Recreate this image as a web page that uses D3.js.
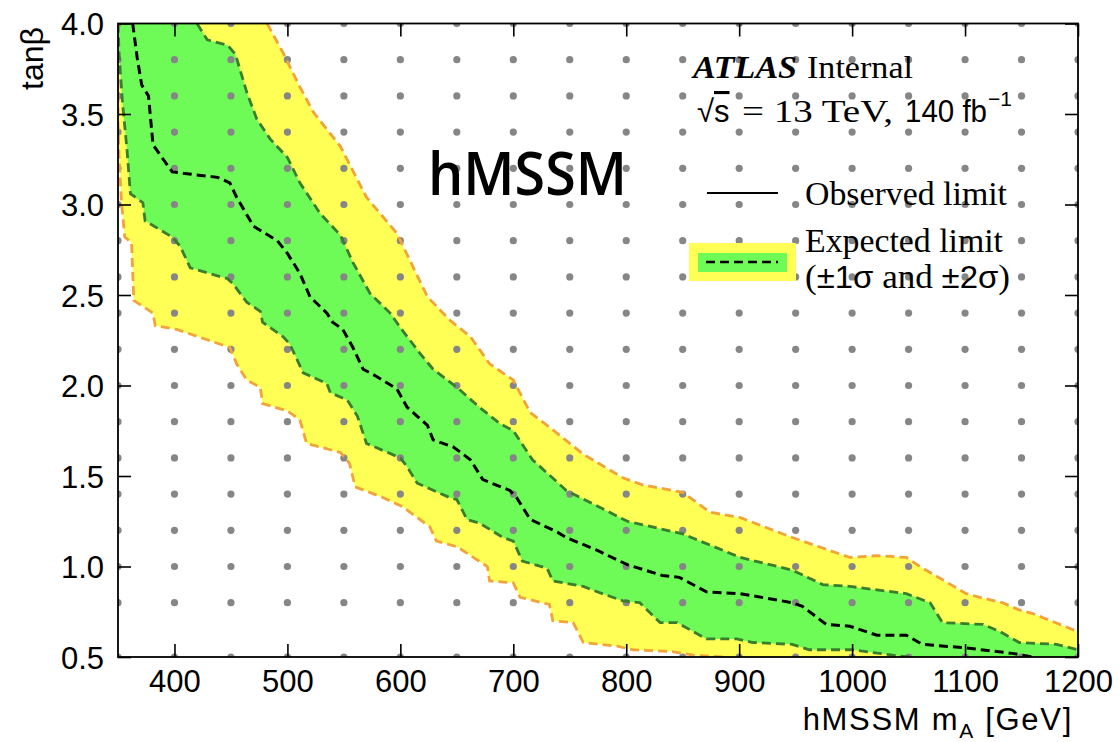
<!DOCTYPE html>
<html>
<head>
<meta charset="utf-8">
<script src="https://cdn.jsdelivr.net/npm/d3@7"></script>
<style>
  html, body { margin: 0; padding: 0; background: #fff; }
  svg { display: block; }
</style>
</head>
<body>
<div id="chart"></div>
<script>
// ---------------- data ----------------
const xTicks = [400, 500, 600, 700, 800, 900, 1000, 1100, 1200];
const yTicks = [0.5, 1.0, 1.5, 2.0, 2.5, 3.0, 3.5, 4.0];

// scan grid points (grey dots)
const gridMass = [350, 400, 450, 500, 550, 600, 650, 700, 750, 800, 850, 900, 950, 1000, 1050, 1100, 1150, 1200];
const gridTanb = [0.5, 0.8, 1.0, 1.2, 1.4, 1.6, 1.8, 2.0, 2.2, 2.4, 2.6, 2.8, 3.0, 3.2, 3.4, 3.6, 3.8, 4.0];

// contours [mA, tanβ]
const sigma2High = [[482,4.0],[496,3.84],[511,3.65],[523,3.51],[547,3.32],[570,3.04],[597,2.84],[624,2.49],[644,2.36],[662,2.27],[679,2.12],[700,2.03],[715,1.85],[732,1.77],[762,1.62],[797,1.49],[815,1.45],[850,1.41],[874,1.30],[901,1.27],[947,1.16],[998,1.05],[1022,1.06],[1048,1.05],[1060,1.00],[1101,0.85],[1113,0.83],[1133,0.80],[1148,0.76],[1160,0.74],[1200,0.64]];
const sigma1High = [[420,4.0],[429,3.91],[447,3.88],[454,3.83],[464,3.62],[473,3.47],[485,3.36],[500,3.26],[511,3.12],[529,2.95],[547,2.83],[558,2.68],[573,2.51],[591,2.40],[600,2.32],[617,2.18],[629,2.09],[650,1.99],[670,1.88],[688,1.79],[700,1.75],[717,1.59],[747,1.42],[801,1.25],[850,1.18],[901,1.05],[947,0.98],[974,0.90],[998,0.89],[1048,0.85],[1069,0.80],[1080,0.69],[1116,0.68],[1131,0.64],[1148,0.58],[1181,0.57],[1200,0.54]];
const expected = [[363,4.0],[367,3.81],[371,3.66],[377,3.60],[381,3.33],[390,3.25],[398,3.18],[411,3.17],[438,3.15],[449,3.12],[455,3.04],[470,2.88],[491,2.80],[500,2.73],[511,2.62],[520,2.49],[535,2.40],[540,2.35],[549,2.31],[558,2.21],[567,2.09],[579,2.05],[597,1.98],[606,1.88],[615,1.83],[624,1.78],[629,1.70],[647,1.66],[662,1.59],[673,1.48],[697,1.42],[703,1.38],[715,1.26],[739,1.19],[747,1.16],[774,1.09],[801,1.01],[832,0.95],[847,0.94],[871,0.86],[901,0.85],[947,0.80],[956,0.78],[977,0.68],[998,0.67],[1022,0.62],[1048,0.62],[1062,0.57],[1101,0.55],[1142,0.52],[1160,0.50]];
const sigma1Low = [[350,4.0],[351,3.83],[354,3.56],[358,3.30],[361,3.06],[372,3.01],[374,2.91],[398,2.82],[405,2.77],[414,2.65],[447,2.59],[452,2.56],[464,2.46],[476,2.41],[478,2.35],[496,2.27],[502,2.23],[514,2.07],[535,2.01],[538,1.96],[553,1.92],[562,1.83],[570,1.68],[600,1.60],[606,1.55],[615,1.46],[644,1.38],[650,1.37],[659,1.26],[670,1.24],[691,1.16],[700,1.14],[708,1.03],[730,0.99],[735,0.92],[762,0.89],[770,0.87],[797,0.81],[812,0.80],[830,0.69],[845,0.69],[871,0.60],[898,0.60],[912,0.58],[947,0.57],[962,0.54],[1000,0.54],[1036,0.51],[1051,0.50]];
const sigma2Low = [[350,4.0],[350,3.45],[351,3.25],[353,3.02],[356,2.82],[362,2.79],[364,2.47],[381,2.40],[383,2.33],[402,2.31],[449,2.21],[455,2.12],[464,2.03],[476,1.99],[478,1.90],[500,1.86],[511,1.81],[517,1.68],[547,1.63],[555,1.57],[560,1.44],[585,1.38],[602,1.33],[626,1.22],[632,1.14],[650,1.11],[677,1.00],[679,0.92],[700,0.91],[706,0.83],[732,0.79],[735,0.70],[753,0.69],[762,0.58],[792,0.56],[806,0.54],[841,0.53],[859,0.51],[889,0.50]];

// ---------------- layout ----------------
const W = 1120, H = 742;
const L = 118, R = 1078, T = 23.5, B = 657;
const sans = "'Liberation Sans', Arimo, Helvetica, Arial, sans-serif";
const serif = "'Liberation Serif', 'Times New Roman', Times, serif";

const svg = d3.select("#chart").append("svg").attr("width", W).attr("height", H);
svg.append("rect").attr("width", W).attr("height", H).attr("fill", "#fff");

const x = d3.scaleLinear().domain([350, 1200]).range([L, R]);
const y = d3.scaleLinear().domain([0.5, 4.0]).range([B, T]);

svg.append("defs").append("clipPath").attr("id", "plotclip")
  .append("rect").attr("x", L).attr("y", T).attr("width", R - L).attr("height", B - T);

const plot = svg.append("g").attr("clip-path", "url(#plotclip)");
const line = d3.line().x(d => x(d[0])).y(d => y(d[1]));

const xMax = x.domain()[1], yMin = y.domain()[0];
const bandPoly = (hi, lo) => hi.concat([[xMax, yMin]], lo.slice().reverse());

plot.append("path").attr("d", line(bandPoly(sigma2High, sigma2Low)) + "Z").attr("fill", "#ffff55");
plot.append("path").attr("d", line(bandPoly(sigma1High, sigma1Low)) + "Z").attr("fill", "#6efb58");

// grid dots
const dots = [];
gridMass.forEach(m => gridTanb.forEach(t => dots.push([m, t])));
plot.selectAll("circle.dot").data(dots).enter().append("circle")
  .attr("class", "dot").attr("cx", d => x(d[0])).attr("cy", d => y(d[1]))
  .attr("r", 3.6).attr("fill", "#868686");

// contour lines
const dashedLine = (data, color, w, dash) => plot.append("path").attr("d", line(data))
  .attr("fill", "none").attr("stroke", color).attr("stroke-width", w).attr("stroke-dasharray", dash);
dashedLine(sigma2High, "#f2a33a", 2.8, "9,5");
dashedLine(sigma2Low, "#f2a33a", 2.8, "9,5");
dashedLine(sigma1High, "#3a7d2c", 2.8, "9,5");
dashedLine(sigma1Low, "#3a7d2c", 2.8, "9,5");
dashedLine(expected, "#000", 3, "9,5");

// axes
const tickFont = 31;
const gx = svg.append("g").attr("transform", `translate(0,${B})`)
  .call(d3.axisBottom(x).tickValues(xTicks).tickSize(-13).tickSizeOuter(0).tickPadding(13).tickFormat(d3.format("d")));
const gxt = svg.append("g").attr("transform", `translate(0,${T})`)
  .call(d3.axisTop(x).tickValues(xTicks).tickSize(-13).tickSizeOuter(0).tickFormat(""));
const gy = svg.append("g").attr("transform", `translate(${L},0)`)
  .call(d3.axisLeft(y).tickValues(yTicks).tickSize(-13).tickSizeOuter(0).tickPadding(14).tickFormat(d3.format(".1f")));
const gyr = svg.append("g").attr("transform", `translate(${R},0)`)
  .call(d3.axisRight(y).tickValues(yTicks).tickSize(-13).tickSizeOuter(0).tickFormat(""));
[gx, gxt, gy, gyr].forEach(g => {
  g.select(".domain").remove();
  g.selectAll(".tick line").attr("stroke", "#000").attr("stroke-width", 1.6);
  g.selectAll("text").attr("font-family", sans).attr("font-size", tickFont).attr("fill", "#000");
});
gy.selectAll("text").attr("dy", "0.36em");

// frame
svg.append("rect").attr("x", L).attr("y", T).attr("width", R - L).attr("height", B - T)
  .attr("fill", "none").attr("stroke", "#000").attr("stroke-width", 1.8);

// axis titles
const xl = svg.append("text").attr("x", 1073).attr("y", 730).attr("text-anchor", "end")
  .attr("font-family", sans).attr("font-size", 31).attr("letter-spacing", 1.7).attr("fill", "#000");
xl.append("tspan").text("hMSSM m");
xl.append("tspan").attr("font-size", 21).attr("dy", 8).text("A");
xl.append("tspan").attr("dy", -8).text(" [GeV]");

svg.append("text").attr("transform", "translate(43,27) rotate(-90)").attr("text-anchor", "end")
  .attr("font-family", sans).attr("font-size", 32).attr("fill", "#000").text("tanβ");

// big label
svg.append("text").attr("x", 428).attr("y", 195)
  .attr("font-family", "'Open Sans', 'Noto Sans', sans-serif").attr("font-weight", 600)
  .attr("font-size", 59).attr("textLength", 199).attr("lengthAdjust", "spacingAndGlyphs")
  .attr("fill", "#000").text("hMSSM");

// ATLAS label
svg.append("text").attr("x", 693).attr("y", 78).attr("font-family", serif).attr("font-weight", "bold")
  .attr("font-style", "italic").attr("font-size", 32).attr("textLength", 104).attr("lengthAdjust", "spacingAndGlyphs")
  .text("ATLAS");
svg.append("text").attr("x", 807).attr("y", 78).attr("font-family", serif)
  .attr("font-size", 32).attr("textLength", 106).attr("lengthAdjust", "spacingAndGlyphs").text("Internal");

const rs = svg.append("text").attr("x", 697).attr("y", 122).attr("font-family", sans).attr("font-size", 31);
rs.append("tspan").text("√");
rs.append("tspan").attr("style", "text-decoration: overline").text("s");
svg.append("text").attr("x", 742).attr("y", 122).attr("font-family", serif).attr("font-size", 32)
  .attr("textLength", 151).attr("lengthAdjust", "spacingAndGlyphs").text("= 13 TeV,");
svg.append("text").attr("x", 905).attr("y", 122).attr("font-family", sans).attr("font-size", 31)
  .attr("textLength", 82).attr("lengthAdjust", "spacingAndGlyphs").text("140 fb");
svg.append("text").attr("x", 988).attr("y", 106).attr("font-family", sans).attr("font-size", 21).text("−1");

// legend
svg.append("line").attr("x1", 707).attr("x2", 778).attr("y1", 193).attr("y2", 193)
  .attr("stroke", "#000").attr("stroke-width", 2.2);
svg.append("text").attr("x", 805).attr("y", 205).attr("font-family", serif).attr("font-size", 33)
  .attr("textLength", 202).attr("lengthAdjust", "spacingAndGlyphs").text("Observed limit");

svg.append("rect").attr("x", 689).attr("y", 243).attr("width", 107).attr("height", 38).attr("fill", "#ffff55");
svg.append("rect").attr("x", 698).attr("y", 253).attr("width", 89).attr("height", 19).attr("fill", "#6efb58");
svg.append("line").attr("x1", 706).attr("x2", 778).attr("y1", 262).attr("y2", 262)
  .attr("stroke", "#000").attr("stroke-width", 2.6).attr("stroke-dasharray", "9,5");
svg.append("text").attr("x", 805).attr("y", 252).attr("font-family", serif).attr("font-size", 33)
  .attr("textLength", 198).attr("lengthAdjust", "spacingAndGlyphs").text("Expected limit");
const el = svg.append("text").attr("x", 805).attr("y", 288).attr("font-family", serif).attr("font-size", 33)
  .attr("textLength", 205).attr("lengthAdjust", "spacingAndGlyphs");
el.append("tspan").text("(");
el.append("tspan").attr("font-family", sans).attr("font-size", 31).text("±1σ");
el.append("tspan").text(" and ");
el.append("tspan").attr("font-family", sans).attr("font-size", 31).text("±2σ");
el.append("tspan").text(")");
</script>
</body>
</html>
